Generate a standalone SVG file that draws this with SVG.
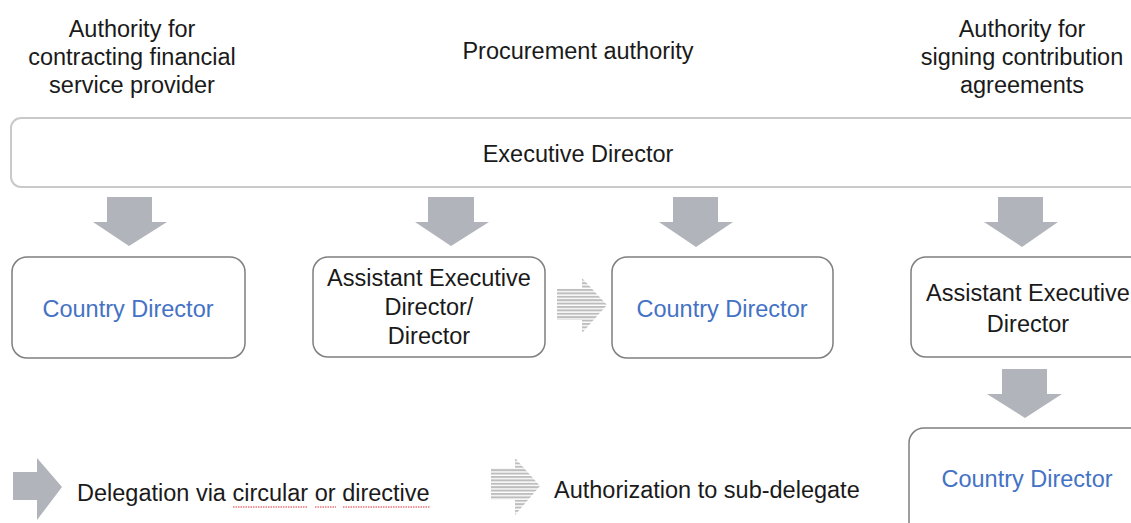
<svg xmlns="http://www.w3.org/2000/svg" width="1131" height="523" viewBox="0 0 1131 523">
<defs>
<style>
text{font-family:"Liberation Sans",Arial,sans-serif;font-size:23.5px;fill:#1a1a1a;text-anchor:middle}
.blue{fill:#4472c4}
.left{text-anchor:start}
.box{fill:#fff;stroke:#7f7f7f;stroke-width:1.5}
.exec{fill:#fff;stroke:#c9c9c9;stroke-width:2}
.arrow{fill:#b1b4ba}
.striped{fill:url(#stripes)}
.squig{fill:none;stroke:#e03030;stroke-width:1;stroke-dasharray:1.5 1}
</style>
<pattern id="stripes" patternUnits="userSpaceOnUse" width="10" height="3.4">
<rect x="0" y="0" width="10" height="3.4" fill="#ffffff"/>
<rect x="0" y="0" width="10" height="2" fill="#bdbdbd"/>
</pattern>
</defs>

<g id="headings">
<text x="132" y="37">Authority for</text>
<text x="132" y="65">contracting financial</text>
<text x="132" y="93">service provider</text>
<text x="578" y="59">Procurement authority</text>
<text x="1022" y="37">Authority for</text>
<text x="1022" y="65">signing contribution</text>
<text x="1022" y="93">agreements</text>
</g>

<g id="executive-director">
<rect class="exec" x="11" y="118" width="1140" height="69" rx="10"/>
<text x="578" y="162">Executive Director</text>
</g>

<g id="connectors">
<path class="arrow" d="M107,197 H152 V222 H167 L129,246 L93,222 H107 Z"/>
<path class="arrow" d="M428,197 H474 V222 H489 L451,246 L415,222 H428 Z"/>
<path class="arrow" d="M673,197 H718 V222 H733 L696,247 L659,222 H673 Z"/>
<path class="arrow" d="M998,197 H1043 V222 H1058 L1022,247 L984,222 H998 Z"/>
<path class="arrow" d="M1002,369 H1047 V394 H1062 L1025,418 L987,394 H1002 Z"/>
<path class="striped" d="M557,288 H582 V278 L607,305 L582,333 V320 H557 Z"/>
</g>

<g id="country-director-1">
<rect class="box" x="12" y="257" width="233" height="101" rx="15"/>
<text class="blue" x="128" y="317">Country Director</text>
</g>

<g id="aed-director">
<rect class="box" x="313" y="257" width="232" height="100" rx="15"/>
<text x="429" y="286">Assistant Executive</text>
<text x="429" y="315">Director/</text>
<text x="429" y="344">Director</text>
</g>

<g id="country-director-2">
<rect class="box" x="612" y="257" width="221" height="101" rx="15"/>
<text class="blue" x="722" y="317">Country Director</text>
</g>

<g id="aed-right">
<rect class="box" x="911" y="257" width="240" height="100" rx="15"/>
<text x="1028" y="301">Assistant Executive</text>
<text x="1028" y="332">Director</text>
</g>

<g id="country-director-3">
<rect class="box" x="909" y="428" width="240" height="120" rx="15"/>
<text class="blue" x="1027" y="487">Country Director</text>
</g>

<g id="legend">
<path class="arrow" d="M13,472 H37 V458 L62,487 L37,520 V500 H13 Z"/>
<text class="left" x="77" y="501">Delegation via circular or directive</text>
<path class="squig" d="M233,507 H308 M315,507 H336 M343,507 H430"/>
<path class="striped" d="M491,468 H515 V458 L540,486 L515,515 V500 H491 Z"/>
<text class="left" x="554" y="498">Authorization to sub-delegate</text>
</g>
</svg>
